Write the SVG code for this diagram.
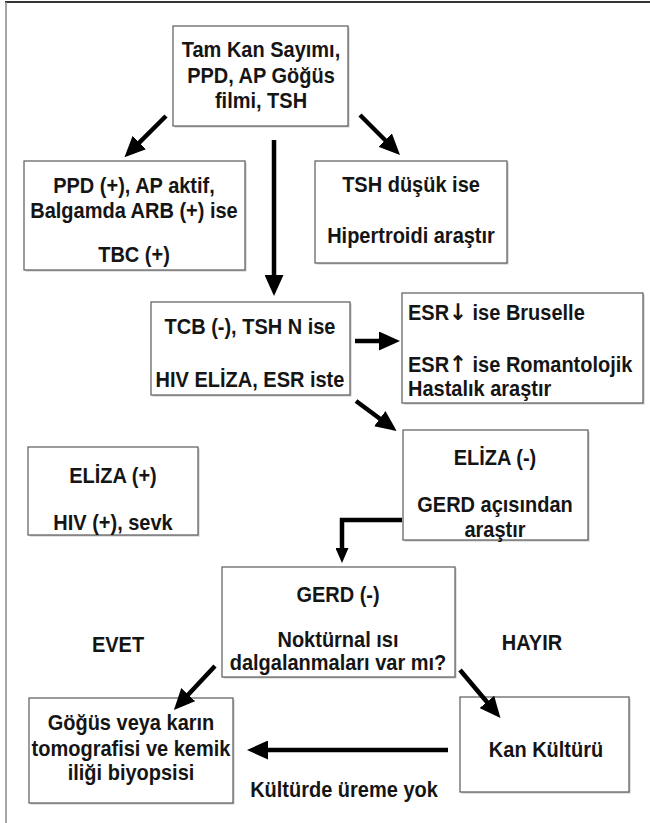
<svg xmlns="http://www.w3.org/2000/svg" width="650" height="823" viewBox="0 0 650 823">
<defs>
<style>
.bx{fill:#fff;stroke:#5a5a5a;stroke-width:1.2}
.sh{fill:#c8c8c8}
.t{font-family:"Liberation Sans",Arial,sans-serif;font-weight:bold;font-size:21.5px;fill:#151515}
.c{text-anchor:middle}
.ar{font-family:"DejaVu Sans",sans-serif;font-weight:bold;font-size:23px}
.ln{stroke:#000;stroke-width:4.5;fill:none}
</style>
<marker id="ah" viewBox="0 0 21 19" refX="4" refY="9.5" markerWidth="21" markerHeight="19" markerUnits="userSpaceOnUse" orient="auto"><path d="M0,0 L21,9.5 L0,19 z" fill="#000"/></marker>
<marker id="ah2" viewBox="0 0 15 13" refX="3" refY="6.5" markerWidth="15" markerHeight="13" markerUnits="userSpaceOnUse" orient="auto"><path d="M0,0 L15,6.5 L0,13 z" fill="#000"/></marker>
</defs>
<rect width="650" height="823" fill="#fff"/>
<line x1="5" y1="2" x2="650" y2="2" stroke="#333" stroke-width="2"/>
<line x1="6" y1="2" x2="6" y2="823" stroke="#888" stroke-width="1.5"/>

<g id="n1"><rect class="sh" x="174.5" y="27.5" width="175" height="100"/><rect class="bx" x="173" y="26" width="175" height="100"/>
<text class="t c" transform="translate(261,57) scale(0.93,1)">Tam Kan Sayımı,</text><text class="t c" transform="translate(261,83) scale(0.93,1)">PPD, AP Göğüs</text><text class="t c" transform="translate(261,108) scale(0.93,1)">filmi, TSH</text></g>

<g id="n2"><rect class="sh" x="25.5" y="162.5" width="221" height="109"/><rect class="bx" x="24" y="161" width="221" height="109"/>
<text class="t c" transform="translate(134,193) scale(0.93,1)">PPD (+), AP aktif,</text><text class="t c" transform="translate(134,218) scale(0.93,1)">Balgamda ARB (+) ise</text><text class="t c" transform="translate(134,262) scale(0.93,1)">TBC (+)</text></g>

<g id="n3"><rect class="sh" x="316.5" y="162.5" width="192" height="102"/><rect class="bx" x="315" y="161" width="192" height="102"/>
<text class="t c" transform="translate(411,192) scale(0.93,1)">TSH düşük ise</text><text class="t c" transform="translate(411,243) scale(0.93,1)">Hipertroidi araştır</text></g>

<g id="n4"><rect class="sh" x="152.5" y="303.5" width="199" height="93"/><rect class="bx" x="151" y="302" width="199" height="93"/>
<text class="t c" transform="translate(250,334) scale(0.93,1)">TCB (-), TSH N ise</text><text class="t c" transform="translate(250,387) scale(0.93,1)">HIV ELİZA, ESR iste</text></g>

<g id="n5"><rect class="sh" x="403.5" y="294.5" width="241" height="110"/><rect class="bx" x="402" y="293" width="241" height="110"/>
<text class="t" transform="translate(408,320) scale(0.93,1)">ESR<tspan class="ar">↓</tspan> ise Bruselle</text><text class="t" transform="translate(408,372) scale(0.93,1)">ESR<tspan class="ar">↑</tspan> ise Romantolojik</text><text class="t" transform="translate(408,396) scale(0.93,1)">Hastalık araştır</text></g>

<g id="n6"><rect class="sh" x="404.5" y="431.5" width="185" height="110"/><rect class="bx" x="403" y="430" width="185" height="110"/>
<text class="t c" transform="translate(495,465) scale(0.93,1)">ELİZA (-)</text><text class="t c" transform="translate(495,512) scale(0.93,1)">GERD açısından</text><text class="t c" transform="translate(495,537) scale(0.93,1)">araştır</text></g>

<g id="n7"><rect class="sh" x="29.5" y="448.5" width="170" height="88"/><rect class="bx" x="28" y="447" width="170" height="88"/>
<text class="t c" transform="translate(113,483) scale(0.93,1)">ELİZA (+)</text><text class="t c" transform="translate(113,530) scale(0.93,1)">HIV (+), sevk</text></g>

<g id="n8"><rect class="sh" x="223.5" y="568.5" width="233" height="110"/><rect class="bx" x="222" y="567" width="233" height="110"/>
<text class="t c" transform="translate(338,602) scale(0.93,1)">GERD (-)</text><text class="t c" transform="translate(338,647) scale(0.93,1)">Noktürnal ısı</text><text class="t c" transform="translate(338,670) scale(0.93,1)">dalgalanmaları var mı?</text></g>

<g id="n9"><rect class="sh" x="30.5" y="699.5" width="204" height="105"/><rect class="bx" x="29" y="698" width="204" height="105"/>
<text class="t c" transform="translate(131,730) scale(0.93,1)">Göğüs veya karın</text><text class="t c" transform="translate(131,756) scale(0.93,1)">tomografisi ve kemik</text><text class="t c" transform="translate(131,780) scale(0.93,1)">iliği biyopsisi</text></g>

<g id="n10"><rect class="sh" x="461.5" y="698.5" width="169" height="95"/><rect class="bx" x="460" y="697" width="169" height="95"/>
<text class="t c" transform="translate(546,757) scale(0.93,1)">Kan Kültürü</text></g>

<g id="labels">
<text class="t c" transform="translate(118,652) scale(0.93,1)">EVET</text>
<text class="t c" transform="translate(532,650) scale(0.93,1)">HAYIR</text>
<text class="t c" transform="translate(344,797) scale(0.93,1)">Kültürde üreme yok</text>
</g>

<g id="connectors">
<line class="ln" x1="166" y1="116" x2="136.5" y2="145.3" marker-end="url(#ah)"/>
<line class="ln" x1="274" y1="140" x2="274" y2="279" marker-end="url(#ah)"/>
<line class="ln" x1="360" y1="115" x2="388" y2="143" marker-end="url(#ah)"/>
<line class="ln" x1="355" y1="341" x2="383" y2="341" marker-end="url(#ah)"/>
<line class="ln" x1="356" y1="401" x2="383" y2="421" marker-end="url(#ah)"/>
<path class="ln" d="M402,520 H342 V551" stroke-width="3" marker-end="url(#ah2)"/>
<line class="ln" x1="215" y1="666" x2="185.5" y2="697.5" marker-end="url(#ah)"/>
<line class="ln" x1="460" y1="670" x2="489.5" y2="705" marker-end="url(#ah)"/>
<line class="ln" x1="448" y1="750" x2="264" y2="750" marker-end="url(#ah)"/>
</g>
</svg>
